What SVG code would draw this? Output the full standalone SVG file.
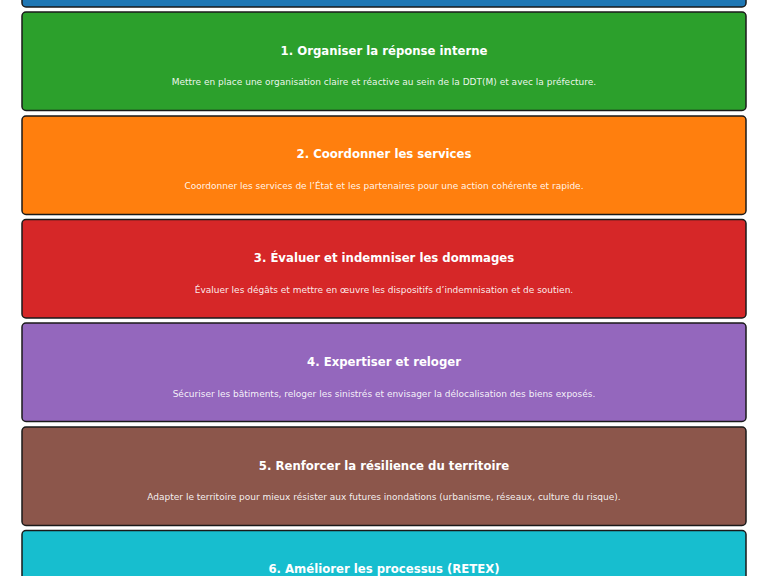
<svg xmlns="http://www.w3.org/2000/svg" width="768" height="576" viewBox="0 0 768 576">
<style>
.box{stroke:#1a1a1a;stroke-width:1.5}
.t{font-family:"DejaVu Sans",sans-serif;font-weight:bold;font-size:11.7px;fill:#ffffff;text-anchor:middle}
.d{font-family:"DejaVu Sans",sans-serif;font-size:9px;fill:#ffffff;fill-opacity:0.92;text-anchor:middle}
</style>
<rect width="768" height="576" fill="#ffffff"/>
<g id="node0"><rect class="box" x="22" y="-92" width="724" height="99" rx="4" fill="#1f77b4"/></g>
<g id="node1"><rect class="box" x="22" y="12" width="724" height="98.5" rx="4" fill="#2ca02c"/>
<text class="t" x="384" y="54.5">1. Organiser la réponse interne</text>
<text class="d" x="384" y="85.3">Mettre en place une organisation claire et réactive au sein de la DDT(M) et avec la préfecture.</text></g>
<g id="node2"><rect class="box" x="22" y="116" width="724" height="98.5" rx="4" fill="#ff7f0e"/>
<text class="t" x="384" y="158.3">2. Coordonner les services</text>
<text class="d" x="384" y="189.2">Coordonner les services de l’État et les partenaires pour une action cohérente et rapide.</text></g>
<g id="node3"><rect class="box" x="22" y="219.5" width="724" height="98.5" rx="4" fill="#d62728"/>
<text class="t" x="384" y="262.2">3. Évaluer et indemniser les dommages</text>
<text class="d" x="384" y="293">Évaluer les dégâts et mettre en œuvre les dispositifs d’indemnisation et de soutien.</text></g>
<g id="node4"><rect class="box" x="22" y="323" width="724" height="98.5" rx="4" fill="#9467bd"/>
<text class="t" x="384" y="365.8">4. Expertiser et reloger</text>
<text class="d" x="384" y="396.7">Sécuriser les bâtiments, reloger les sinistrés et envisager la délocalisation des biens exposés.</text></g>
<g id="node5"><rect class="box" x="22" y="427" width="724" height="98.5" rx="4" fill="#8c564b"/>
<text class="t" x="384" y="469.5">5. Renforcer la résilience du territoire</text>
<text class="d" x="384" y="500.4">Adapter le territoire pour mieux résister aux futures inondations (urbanisme, réseaux, culture du risque).</text></g>
<g id="node6"><rect class="box" x="22" y="530.5" width="724" height="98.5" rx="4" fill="#17becf"/>
<text class="t" x="384" y="573.3">6. Améliorer les processus (RETEX)</text></g>
<g id="connectors"></g>
</svg>
